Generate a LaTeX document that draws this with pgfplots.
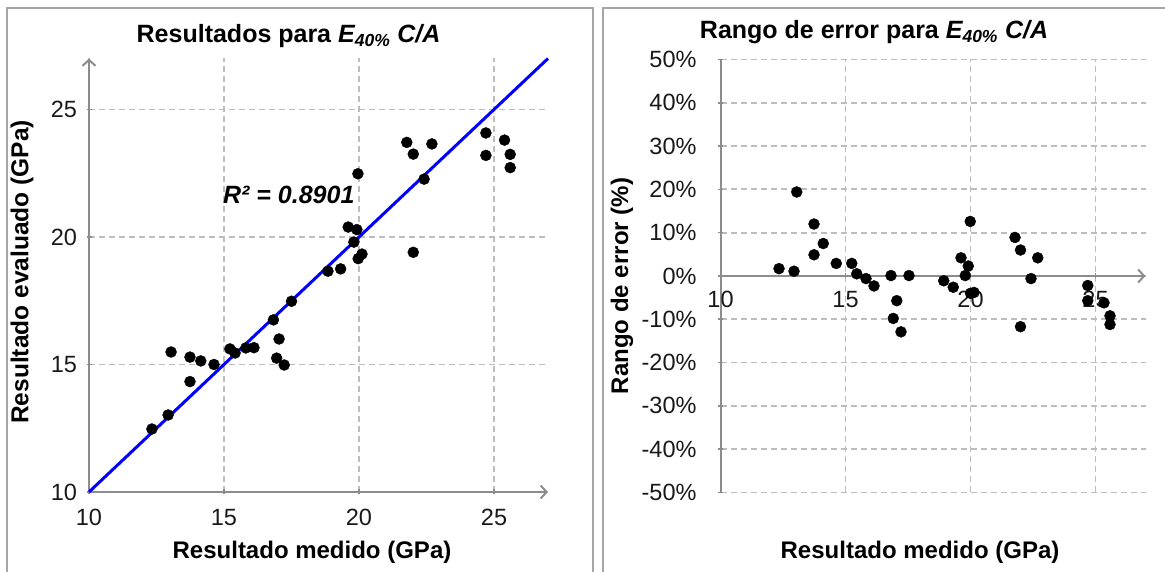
\documentclass[border=0pt]{standalone}
\usepackage{fontspec}
\setmainfont{Liberation Sans}
\usepackage{pgfplots}
\pgfplotsset{compat=1.18}
\usetikzlibrary{arrows.meta}

\definecolor{axgray}{HTML}{8C8C8C}
\definecolor{gridgray}{HTML}{BDBDBD}
\definecolor{framegray}{HTML}{A6A6A6}

\pgfplotsset{
  panel/.style={
    scale only axis,
    enlargelimits=false,
    clip=false,
    grid=major,
    major grid style={gridgray, dash pattern=on 6pt off 4pt, line width=1.8pt},
    tick align=outside,
    major tick length=5pt,
    tick style={axgray, line width=1.6pt},
    ticklabel style={font=\fontsize{23.5}{27}\selectfont, text=black!90},
    hide obscured x ticks=false,
    hide obscured y ticks=false,
  },
}

\begin{document}
\begin{tikzpicture}
% panel frames
\draw[framegray, line width=2pt] (7pt,-10pt) -- (7pt,564pt) -- (593pt,564pt) -- (593pt,-10pt);
\draw[framegray, line width=2pt] (603pt,-10pt) -- (603pt,564pt) -- (1175pt,564pt);

% left: evaluated vs measured
\begin{axis}[panel,
    at={(89pt,80pt)}, anchor=south west,
    width=459pt, height=433.5pt,
    xmin=10, xmax=27, ymin=10, ymax=27,
    axis lines=left,
    axis line style={axgray, line width=2pt, -{Straight Barb[length=6pt,width=13pt]}},
    xtick={10,15,20,25}, ytick={10,15,20,25},
    xticklabels={10,15,20,25}, yticklabels={10,15,20,25},
    xticklabel style={yshift=-11pt},
    yticklabel style={xshift=-6pt},
]
\addplot[blue, line width=3pt] coordinates {(10,10) (27,27)};
\addplot[only marks, mark=*, mark size=5.5pt, black] coordinates {
(12.33,12.47) (12.93,13.02) (13.04,15.49) (13.74,15.29) (13.74,14.33)
(14.14,15.14) (14.63,15.00) (15.22,15.61) (15.41,15.45) (15.81,15.65)
(16.11,15.66) (16.83,16.75) (17.04,16.00) (16.95,15.25) (17.23,14.98)
(17.50,17.48) (18.85,18.66) (19.32,18.75) (19.60,20.39) (19.92,20.29)
(19.81,19.80) (19.97,19.15) (20.11,19.33) (19.96,22.48) (21.77,23.71)
(22.01,23.25) (22.01,19.40) (22.41,22.27) (22.70,23.65) (24.70,24.08)
(24.70,23.20) (25.39,23.80) (25.60,23.24) (25.60,22.72)
};
\node[font=\bfseries\itshape\fontsize{25}{29}\selectfont] at (axis cs:17.4,21.65) {R² = 0.8901};
\end{axis}

% right: error range
\begin{axis}[panel,
    at={(720.5pt,79.5pt)}, anchor=south west,
    width=425pt, height=433pt,
    xmin=10, xmax=27, ymin=-50, ymax=50,
    axis x line=middle, axis y line=left,
    x axis line style={axgray, line width=2pt, -{Straight Barb[length=6pt,width=13pt]}},
    y axis line style={axgray, line width=2pt, -},
    xtick={10,15,20,25}, xticklabels={10,15,20,25},
    ytick={-50,-40,-30,-20,-10,0,10,20,30,40,50},
    yticklabels={-50\%,-40\%,-30\%,-20\%,-10\%,0\%,10\%,20\%,30\%,40\%,50\%},
    xticklabel style={yshift=-9pt},
    yticklabel style={xshift=-18pt},
]
\addplot[only marks, mark=*, mark size=5.5pt, black] coordinates {
(12.34,1.7) (12.94,1.1) (13.05,19.4) (13.74,12.0) (13.74,4.9)
(14.11,7.5) (14.63,2.9) (15.25,2.9) (15.45,0.5) (15.82,-0.6)
(16.14,-2.3) (16.82,0.1) (17.54,0.1) (17.05,-5.7) (16.91,-9.8)
(17.22,-12.9) (18.93,-1.1) (19.31,-2.6) (19.62,4.2) (19.91,2.3)
(19.79,0.1) (19.99,12.6) (20.00,-4.0) (20.14,-3.8) (21.78,8.9)
(22.00,6.0) (22.00,-11.7) (22.42,-0.6) (22.69,4.2) (24.69,-2.2)
(24.69,-5.7) (25.34,-6.2) (25.58,-9.2) (25.58,-11.2)
};
\end{axis}

% titles and axis labels
\node[font=\bfseries\fontsize{25}{29}\selectfont] at (288.5pt,536pt)
  {Resultados para \textit{E\textsubscript{40\%} C/A}};
\node[font=\bfseries\fontsize{25}{29}\selectfont] at (874pt,540pt)
  {Rango de error para \textit{E\textsubscript{40\%} C/A}};
\node[font=\bfseries\fontsize{24}{28}\selectfont] at (312pt,20pt) {Resultado medido (GPa)};
\node[font=\bfseries\fontsize{24}{28}\selectfont] at (920pt,20pt) {Resultado medido (GPa)};
\node[font=\bfseries\fontsize{24.5}{28}\selectfont, rotate=90] at (22pt,300pt) {Resultado evaluado (GPa)};
\node[font=\bfseries\fontsize{24}{28}\selectfont, rotate=90] at (622pt,286pt) {Rango de error (\%)};

\pgfresetboundingbox
\useasboundingbox (0pt,0pt) rectangle (1165pt,572pt);
\end{tikzpicture}
\end{document}
